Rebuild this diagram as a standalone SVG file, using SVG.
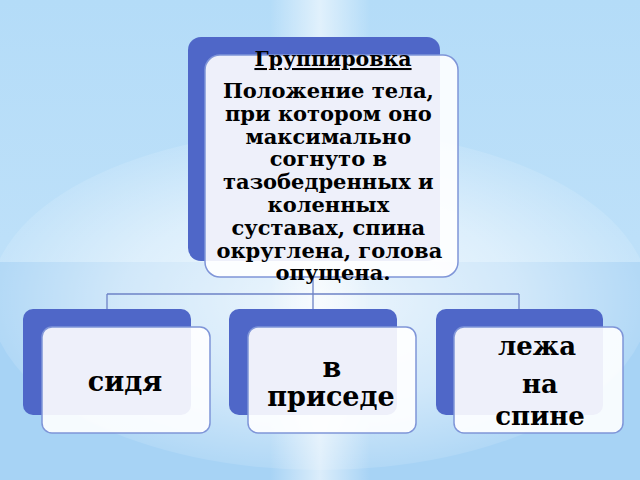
<svg xmlns="http://www.w3.org/2000/svg" width="640" height="480" viewBox="0 0 640 480">
<defs>
<linearGradient id="bgTop" x1="0" y1="0" x2="0" y2="1">
<stop offset="0" stop-color="#b4dcf8"/>
<stop offset="1" stop-color="#c6e4fa"/>
</linearGradient>
<linearGradient id="streak" x1="0" y1="0" x2="1" y2="0">
<stop offset="0" stop-color="#ffffff" stop-opacity="0"/>
<stop offset="0.5" stop-color="#ffffff" stop-opacity="0.85"/>
<stop offset="1" stop-color="#ffffff" stop-opacity="0"/>
</linearGradient>
<radialGradient id="glow" cx="0.5" cy="0.5" r="0.5">
<stop offset="0" stop-color="#ffffff" stop-opacity="1"/>
<stop offset="0.6" stop-color="#ffffff" stop-opacity="0.6"/>
<stop offset="1" stop-color="#ffffff" stop-opacity="0.15"/>
</radialGradient>
<style>
.back{fill:#4f67c8;}
.front{fill:#ffffff;fill-opacity:0.9;stroke:#7f95d8;stroke-width:1.5;}
.conn{fill:none;stroke:#6d83c6;stroke-width:1.3;}
.t{font-family:"DejaVu Serif","Liberation Serif",serif;font-weight:bold;fill:#000;text-anchor:middle;}
.body{font-size:21px;}
.big{font-size:27px;}
.mid{font-size:26px;}
</style>
</defs>
<g id="background">
<rect x="0" y="0" width="640" height="480" fill="url(#bgTop)"/>
<rect x="0" y="262" width="640" height="218" fill="#a7d3f5"/>
<ellipse cx="320" cy="300" rx="330" ry="170" fill="url(#glow)" opacity="0.8"/>
<rect x="270" y="0" width="100" height="480" fill="url(#streak)" opacity="0.7"/>
</g>
<g id="connectors">
<path class="conn" d="M313 277 V309 M107 294 H519 M107 294 V310 M519 294 V310"/>
</g>
<g id="node-top">
<rect class="back" x="188" y="37" width="252" height="224" rx="13"/>
<rect class="front" x="205" y="55" width="253" height="222" rx="15"/>
<text class="t" x="333" y="66" font-size="20.5" text-decoration="underline">Группировка</text>
<text class="t body">
<tspan x="332" y="98">Положение тела,</tspan>
<tspan x="332" y="120.8">при котором оно</tspan>
<tspan x="332" y="143.6">максимально</tspan>
<tspan x="332" y="166.4">согнуто в</tspan>
<tspan x="332" y="189.2">тазобедренных и</tspan>
<tspan x="332" y="212">коленных</tspan>
<tspan x="332" y="234.8">суставах, спина</tspan>
<tspan x="333" y="257.6">округлена, голова</tspan>
<tspan x="333" y="280.4">опущена.</tspan>
</text>
</g>
<g id="node-sidya">
<rect class="back" x="23" y="309" width="168" height="106" rx="10"/>
<rect class="front" x="42" y="327" width="168" height="106" rx="10"/>
<text class="t big" x="125" y="391">сидя</text>
</g>
<g id="node-prisede">
<rect class="back" x="229" y="309" width="168" height="106" rx="10"/>
<rect class="front" x="248" y="327" width="168" height="106" rx="10"/>
<text class="t big"><tspan x="332" y="377">в</tspan><tspan x="331" y="406">приседе</tspan></text>
</g>
<g id="node-lezha">
<rect class="back" x="436" y="309" width="167" height="106" rx="10"/>
<rect class="front" x="454" y="327" width="169" height="106" rx="10"/>
<text class="t mid"><tspan x="537" y="355">лежа</tspan><tspan x="540" y="393">на</tspan><tspan x="540" y="425">спине</tspan></text>
</g>
</svg>
